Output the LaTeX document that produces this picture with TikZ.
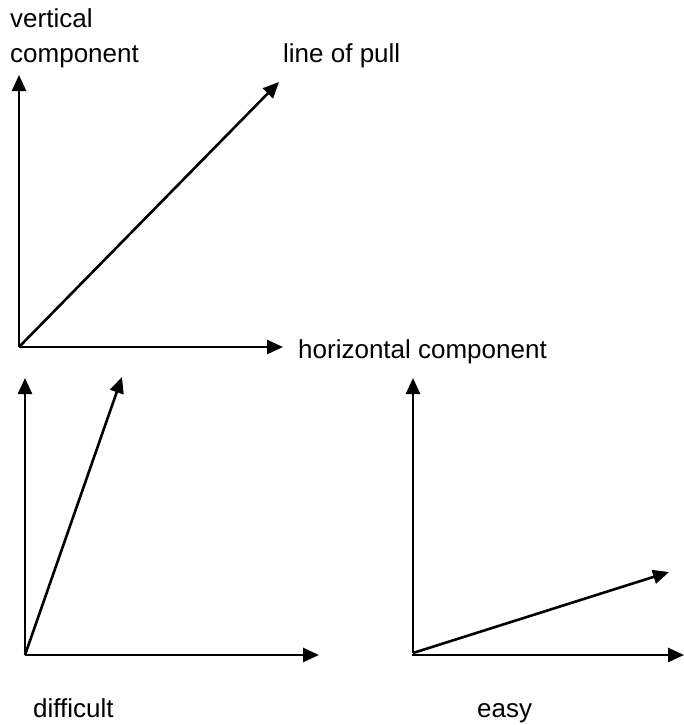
\documentclass[tikz,border=0pt]{standalone}
\usepackage{fontspec}
\setmainfont{Liberation Sans}
\usetikzlibrary{arrows.meta}
\begin{document}
\begin{tikzpicture}[x=1pt,y=-1pt,
  vec/.style={line width=2.6pt,-{Triangle[length=16pt,width=14pt]}},
  lbl/.style={anchor=base west,inner sep=0pt,font=\fontsize{26}{31}\selectfont}]
\useasboundingbox (0,0) rectangle (684,725);
% main figure
\coordinate (O) at (19,347);
\coordinate (V) at (19,75);
\coordinate (H) at (283,347);
\coordinate (P) at (279,82);
\draw[vec] (O) -- (V);
\draw[vec] (O) -- (H);
\draw[vec] (O) -- (P);
\node[lbl] (vt1) at (10,28) {vertical};
\node[lbl] (vt2) at (10,63) {component};
\node[lbl] (lp) at (283,63) {line of pull};
\node[lbl] (hc) at (298,358) {horizontal component};
% difficult
\coordinate (O2) at (25,655);
\coordinate (V2) at (25,378);
\coordinate (H2) at (319,655);
\coordinate (P2) at (122,377);
\draw[vec] (O2) -- (V2);
\draw[vec] (O2) -- (H2);
\draw[vec] (O2) -- (P2);
\node[lbl] (df) at (33,717) {difficult};
% easy
\coordinate (O3) at (413,653);
\coordinate (O3h) at (412,655);
\coordinate (V3) at (413,378);
\coordinate (H3) at (684,655);
\coordinate (P3) at (669,572);
\draw[vec] (O3) -- (V3);
\draw[vec] (O3h) -- (H3);
\draw[vec] (O3) -- (P3);
\node[lbl] (ez) at (477,717) {easy};
\end{tikzpicture}
\end{document}
